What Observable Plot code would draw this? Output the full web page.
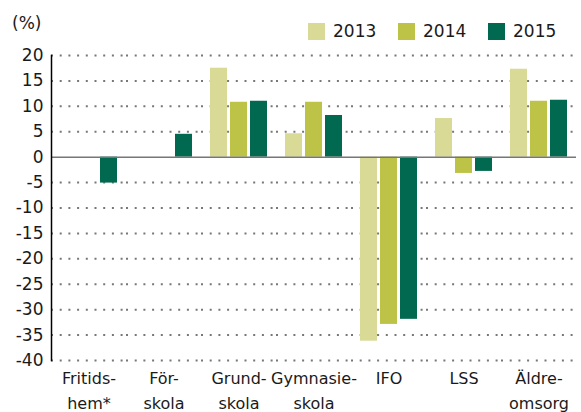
<!DOCTYPE html>
<html><head><meta charset="utf-8">
<script src="https://cdn.jsdelivr.net/npm/d3@7"></script>
<script src="https://cdn.jsdelivr.net/npm/@observablehq/plot@0.6"></script>
<style>
body{margin:0;background:#fff;font-family:"DejaVu Sans",sans-serif;color:#1a1a1a;}
#wrap{width:581px;}
#head{position:relative;height:46px;font-size:17px;}
#unit{position:absolute;left:12px;top:15px;line-height:17px;}
#legend{position:absolute;left:308px;top:23px;display:flex;}
.item{display:flex;align-items:center;width:90px;line-height:17px;}
.sw{width:17px;height:17px;margin-right:8px;}
</style></head><body>
<div id="wrap"><div id="head"><span id="unit">(%)</span><div id="legend"></div></div><div id="chart"></div></div>
<script>
const categories = ["Fritidshem","Förskola","Grundskola","Gymnasieskola","IFO","LSS","Äldreomsorg"];
const categoryLabels = ["Fritids-\nhem*","För-\nskola","Grund-\nskola","Gymnasie-\nskola","IFO","LSS","Äldre-\nomsorg"];
const years = ["2013","2014","2015"];
const values2013 = [null, null, 17.5, 4.6, -36.2, 7.6, 17.3];
const values2014 = [null, null, 10.8, 10.8, -32.9, -3.2, 11.0];
const values2015 = [-5.1, 4.5, 11.0, 8.2, -31.9, -2.8, 11.2];
const colors = ["#d8da96", "#bcc347", "#00694f"];
const yTicks = [20, 15, 10, 5, 0, -5, -10, -15, -20, -25, -30, -35, -40];

const legend = document.getElementById("legend");
years.forEach((y, i) => {
  const it = document.createElement("div"); it.className = "item";
  const sw = document.createElement("div"); sw.className = "sw"; sw.style.background = colors[i];
  const tx = document.createElement("span"); tx.textContent = y;
  it.appendChild(sw); it.appendChild(tx); legend.appendChild(it);
});

const series = [values2013, values2014, values2015];
const data = [];
categories.forEach((c, i) => {
  series.forEach((vals, j) => {
    if (vals[i] != null) data.push({category: c, year: years[j], value: vals[i]});
  });
});
const labelData = categories.map((c, i) => ({category: c, label: categoryLabels[i]}));

const chart = Plot.plot({
  width: 581, height: 366,
  marginTop: 9, marginBottom: 52, marginLeft: 50, marginRight: 4,
  style: {fontFamily: "DejaVu Sans", fontSize: "17px", color: "#1a1a1a", background: "#fff"},
  fx: {domain: categories, padding: 0, axis: null},
  x: {domain: years, paddingInner: 0.15, paddingOuter: 0.45, axis: null},
  y: {domain: [-40, 20], ticks: yTicks, tickSize: 0, tickPadding: 8, label: null, tickFormat: d => String(d)},
  color: {domain: years, range: colors},
  marks: [
    Plot.ruleY(yTicks.filter(t => t !== 0), {stroke: "#777", strokeWidth: 2, strokeDasharray: "2,6.7"}),
    Plot.barY(data, {fx: "category", x: "year", y: "value", fill: "year"}),
    Plot.ruleY([0], {stroke: "#767676", strokeWidth: 1.5}),
    Plot.frame({anchor: "left", facetAnchor: "left", stroke: "#000", strokeWidth: 1.5}),
    Plot.text(labelData, {fx: "category", text: "label", frameAnchor: "bottom", lineAnchor: "top", dy: 5, lineHeight: 1.6, fontSize: 16, fill: "#1a1a1a"})
  ]
});
document.getElementById("chart").appendChild(chart);
</script>
</body></html>
